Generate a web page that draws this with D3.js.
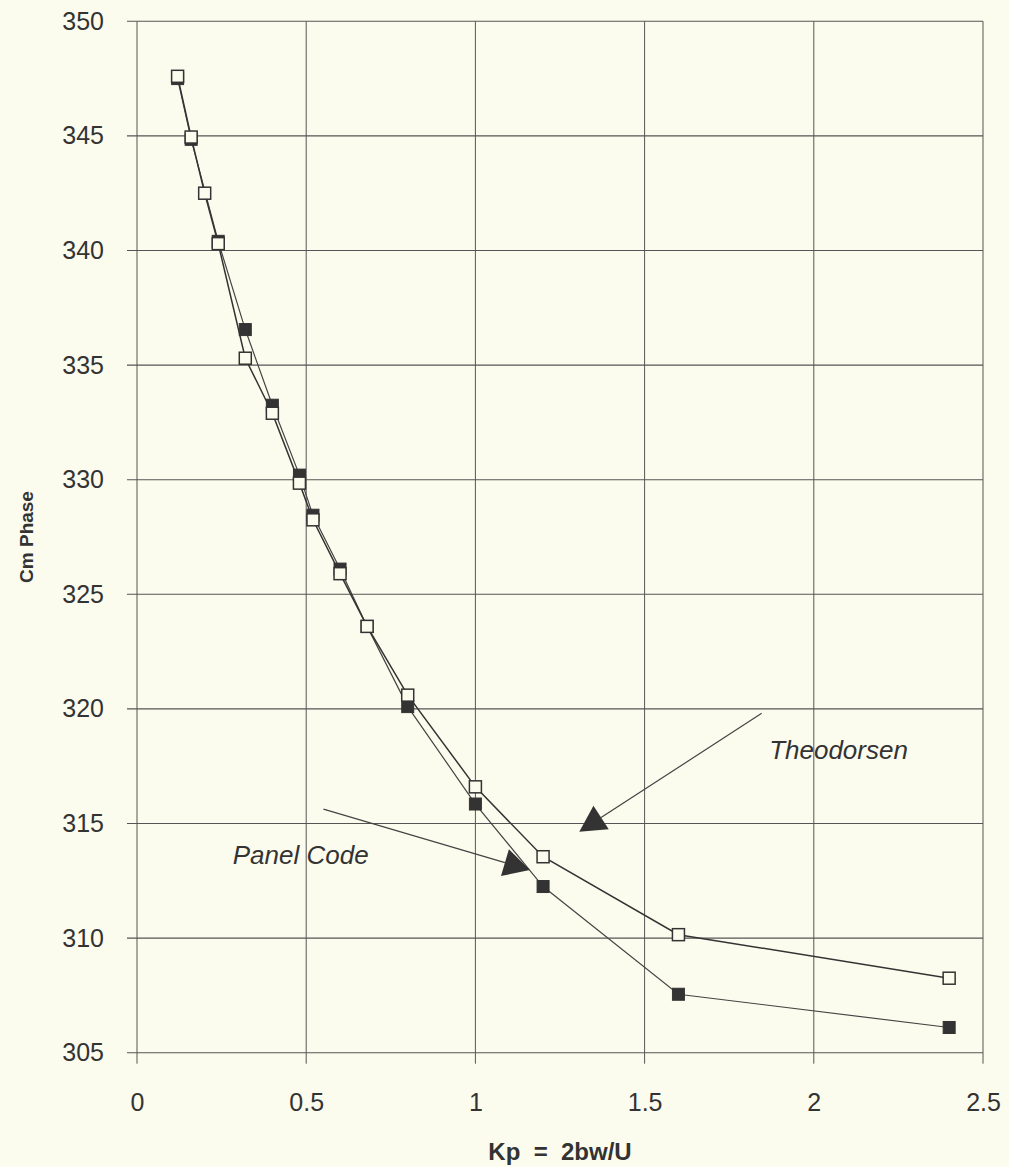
<!DOCTYPE html>
<html>
<head>
<meta charset="utf-8">
<script src="https://cdn.jsdelivr.net/npm/d3@7"></script>
<style>
  html, body { margin: 0; padding: 0; background: #fcfcee; }
  svg { display: block; }
  text { font-family: "Liberation Sans", Arial, Helvetica, sans-serif; fill: #333; }
</style>
</head>
<body>
<svg id="chart" width="1009" height="1167"></svg>
<script>
// ---- data ----
const theoK     = [0.12, 0.16, 0.2, 0.24, 0.32, 0.4, 0.48, 0.52, 0.6, 0.68, 0.8, 1.0, 1.2, 1.6, 2.4];
const theoPhase = [347.6, 344.95, 342.5, 340.3, 335.3, 332.9, 329.85, 328.25, 325.9, 323.6, 320.6, 316.6, 313.55, 310.15, 308.25];
const panelK     = [0.12, 0.16, 0.24, 0.32, 0.4, 0.48, 0.52, 0.6, 0.68, 0.8, 1.0, 1.2, 1.6, 2.4];
const panelPhase = [347.5, 344.85, 340.4, 336.55, 333.25, 330.2, 328.45, 326.1, 323.6, 320.1, 315.85, 312.25, 307.55, 306.1];
const xTicks = [0, 0.5, 1, 1.5, 2, 2.5];
const xTickLabels = ["0", "0.5", "1", "1.5", "2", "2.5"];
const yTicks = [305, 310, 315, 320, 325, 330, 335, 340, 345, 350];
const xTitle = "Kp  =  2bw/U";
const yTitle = "Cm Phase";
// annotations: [label, text x, text baseline y, line start x, line start y, arrow tip x, arrow tip y]
const annoLabels = ["Theodorsen", "Panel Code"];
const annoTextPos = [[1.868, 317.8], [0.283, 313.23]];
const annoLineStart = [[1.846, 319.81], [0.551, 315.63]];
const annoTip = [[1.307, 314.64], [1.161, 312.97]];

// ---- layout ----
const svg = d3.select("#chart");
const x = d3.scaleLinear().domain([0, 2.5]).range([137, 983]);
const y = d3.scaleLinear().domain([305, 350]).range([1052.7, 21.3]);
const gridColor = "#555";

// horizontal gridlines (extend left as ticks)
svg.append("g").selectAll("line").data(yTicks).join("line")
  .attr("x1", x(0) - 10).attr("x2", x(2.5))
  .attr("y1", d => y(d)).attr("y2", d => y(d))
  .attr("stroke", gridColor).attr("stroke-width", 1.1);

// vertical gridlines (extend down as ticks)
svg.append("g").selectAll("line").data(xTicks).join("line")
  .attr("x1", d => x(d)).attr("x2", d => x(d))
  .attr("y1", y(350)).attr("y2", y(305) + 11)
  .attr("stroke", gridColor).attr("stroke-width", 1);

// axes labels via d3 axes (no lines)
const yAxis = svg.append("g").attr("transform", `translate(${x(0)},0)`)
  .call(d3.axisLeft(y).tickValues(yTicks).tickSize(0).tickPadding(33).tickFormat(d3.format("d")));
yAxis.select(".domain").remove();
yAxis.selectAll("text").attr("font-size", 25).attr("fill", "#333")
  .style("font-family", '"Liberation Sans", Arial, sans-serif');

const xAxis = svg.append("g").attr("transform", `translate(0,${y(305)})`)
  .call(d3.axisBottom(x).tickValues(xTicks).tickSize(0).tickPadding(0)
    .tickFormat((d, i) => xTickLabels[i]));
xAxis.select(".domain").remove();
xAxis.selectAll("text").attr("font-size", 25).attr("fill", "#333").attr("dy", null)
  .attr("y", 52).attr("dominant-baseline", "middle")
  .style("font-family", '"Liberation Sans", Arial, sans-serif');

// titles
svg.append("text").attr("x", (x(0) + x(2.5)) / 2).attr("y", 1160)
  .attr("text-anchor", "middle").attr("font-size", 24).attr("font-weight", "bold")
  .style("white-space", "pre").text(xTitle);
svg.append("text").attr("transform", `translate(33,${(y(305) + y(350)) / 2}) rotate(-90)`)
  .attr("text-anchor", "middle").attr("font-size", 19).attr("font-weight", "bold")
  .text(yTitle);

// series
const panelData = panelK.map((k, i) => [k, panelPhase[i]]);
const theoData = theoK.map((k, i) => [k, theoPhase[i]]);
const line = d3.line().x(d => x(d[0])).y(d => y(d[1]));
const sq = 12;

svg.append("path").datum(panelData).attr("d", line)
  .attr("fill", "none").attr("stroke", "#444").attr("stroke-width", 1.2);
svg.append("path").datum(theoData).attr("d", line)
  .attr("fill", "none").attr("stroke", "#333").attr("stroke-width", 1.5);

svg.append("g").selectAll("rect").data(panelData).join("rect")
  .attr("x", d => x(d[0]) - sq / 2).attr("y", d => y(d[1]) - sq / 2)
  .attr("width", sq).attr("height", sq)
  .attr("fill", "#333").attr("stroke", "#333").attr("stroke-width", 1);

svg.append("g").selectAll("rect").data(theoData).join("rect")
  .attr("x", d => x(d[0]) - sq / 2).attr("y", d => y(d[1]) - sq / 2)
  .attr("width", sq).attr("height", sq)
  .attr("fill", "#fcfcee").attr("stroke", "#333").attr("stroke-width", 1.5);

// annotations
annoLabels.forEach((lab, i) => {
  const sx = x(annoLineStart[i][0]), sy = y(annoLineStart[i][1]);
  const tx = x(annoTip[i][0]), ty = y(annoTip[i][1]);
  const dx = tx - sx, dy = ty - sy, len = Math.hypot(dx, dy);
  const ux = dx / len, uy = dy / len;
  const L = 26, W = 14;
  const bx = tx - ux * L, by = ty - uy * L;
  svg.append("line").attr("x1", sx).attr("y1", sy).attr("x2", bx).attr("y2", by)
    .attr("stroke", "#444").attr("stroke-width", 1.2);
  svg.append("path")
    .attr("d", `M${tx},${ty} L${bx - uy * W},${by + ux * W} L${bx + uy * W},${by - ux * W} Z`)
    .attr("fill", "#333");
  svg.append("text").attr("x", x(annoTextPos[i][0])).attr("y", y(annoTextPos[i][1]))
    .attr("font-size", 26).attr("font-style", "italic").text(lab);
});
</script>
</body>
</html>
